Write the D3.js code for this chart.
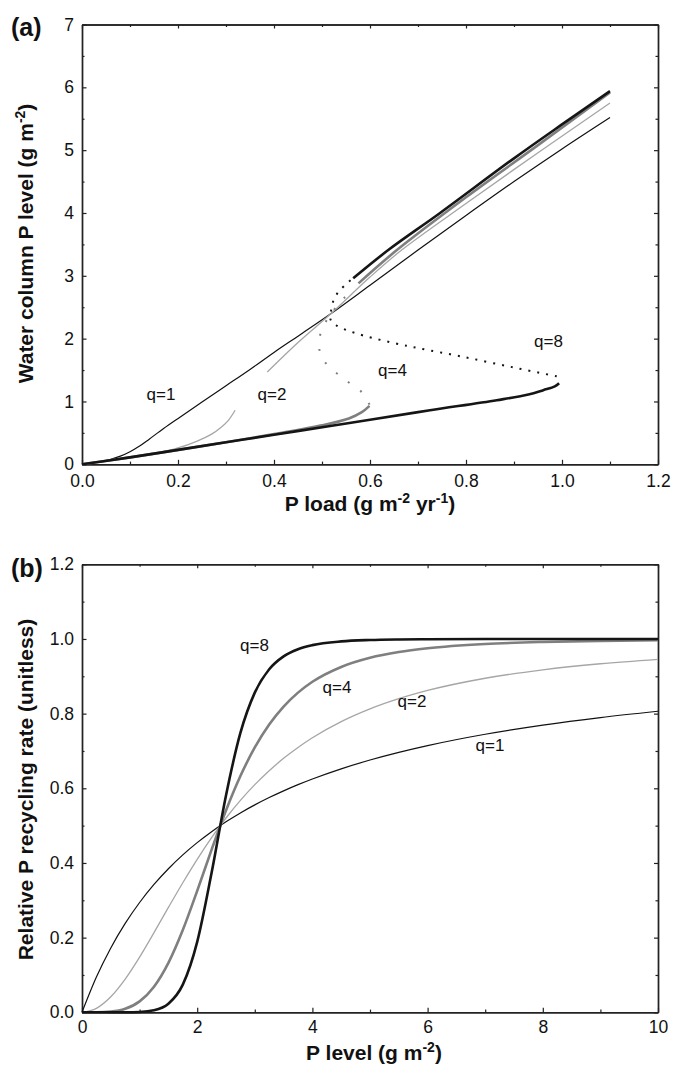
<!DOCTYPE html>
<html><head><meta charset="utf-8">
<script src="https://cdn.jsdelivr.net/npm/d3@7"></script>
<style>
html,body{margin:0;padding:0;background:#fff;}
svg{display:block;font-family:Arial,"Liberation Sans",Helvetica,sans-serif;}
</style></head>
<body><svg id="chart" width="673" height="1068"></svg>
<script>
// ---------- Panel (a) data: P load (x) vs water column P level (y) ----------
const q1Load  = [0,0.02,0.04,0.06,0.08,0.1,0.12,0.14,0.17,0.204,0.25,0.3,0.35,0.4,0.45,0.519,0.6,0.7,0.8,0.9,1.0,1.1];
const q1Level = [0,0.02,0.045,0.08,0.13,0.2,0.29,0.4,0.57,0.75,0.99,1.25,1.51,1.78,2.04,2.4,2.85,3.41,3.96,4.5,5.02,5.52];

const q2LowLoad  = [0,0.05,0.1,0.15,0.2,0.24,0.27,0.29,0.305,0.319];
const q2LowLevel = [0,0.05,0.11,0.17,0.26,0.37,0.48,0.59,0.7,0.86];
const q2UpLoad   = [0.386,0.45,0.519,0.6,0.666,0.8,0.95,1.1];
const q2UpLevel  = [1.47,1.94,2.4,2.98,3.41,4.15,4.96,5.75];

const q4LowLoad  = [0,0.1,0.2,0.3,0.4,0.5,0.556,0.583,0.599];
const q4LowLevel = [0,0.11,0.23,0.35,0.48,0.62,0.73,0.83,0.93];
const q4MidLoad  = [0.599,0.584,0.558,0.534,0.51,0.496,0.496,0.506,0.519,0.545,0.569];
const q4MidLevel = [0.95,1.14,1.29,1.43,1.59,1.77,2.05,2.24,2.4,2.64,2.81];
const q4UpLoad   = [0.576,0.656,0.8,0.95,1.1];
const q4UpLevel  = [2.88,3.41,4.25,5.08,5.92];

const q8LowLoad  = [0,0.1,0.2,0.3,0.4,0.517,0.6,0.725,0.864,0.93,0.961,0.985,0.994];
const q8LowLevel = [0,0.11,0.23,0.35,0.47,0.61,0.71,0.86,1.02,1.11,1.18,1.24,1.29];
const q8MidLoad  = [0.989,0.9,0.794,0.7,0.656,0.586,0.55,0.53,0.518,0.519,0.524,0.534,0.555,0.565];
const q8MidLevel = [1.40,1.54,1.71,1.85,1.92,2.05,2.14,2.21,2.3,2.45,2.61,2.74,2.9,2.96];
const q8UpLoad   = [0.565,0.638,0.746,0.9,1.0,1.1];
const q8UpLevel  = [2.96,3.41,4.0,4.87,5.41,5.94];

const aXTicks = [0,0.2,0.4,0.6,0.8,1.0,1.2];
const aYTicks = [0,1,2,3,4,5,6,7];

// ---------- Panel (b) data: P level (x) vs relative recycling rate (y) ----------
const pLevel = [0,0.25,0.5,0.75,1,1.25,1.5,1.75,2,2.25,2.5,2.75,3,3.25,3.5,3.75,4,4.5,5,5.5,6,7,8,9,10];
const rateQ1 = [0,0.0943,0.1724,0.2381,0.2941,0.3425,0.3846,0.4217,0.4545,0.4839,0.5102,0.5340,0.5556,0.5752,0.5932,0.6098,0.6250,0.6522,0.6757,0.6962,0.7143,0.7447,0.7692,0.7895,0.8065];
const rateQ2 = [0,0.0107,0.0416,0.0890,0.1479,0.2134,0.2809,0.3471,0.4098,0.4678,0.5204,0.5677,0.6098,0.6471,0.6802,0.7094,0.7353,0.7785,0.8127,0.8400,0.8621,0.8948,0.9174,0.9336,0.9455];
const rateQ4 = [0,0.0001,0.0019,0.0094,0.0293,0.0685,0.1324,0.2204,0.3253,0.4358,0.5407,0.6329,0.7094,0.7708,0.8189,0.8563,0.8853,0.9251,0.9496,0.9650,0.9750,0.9864,0.9920,0.9950,0.9967];
const rateQ8 = [0,0,0,0.0001,0.0009,0.0054,0.0228,0.0740,0.1887,0.3737,0.5809,0.7482,0.8563,0.9188,0.9534,0.9726,0.9835,0.9935,0.9972,0.9987,0.9993,0.9998,0.9999,1.0,1.0];

const bXTicks = [0,2,4,6,8,10];
const bYTicks = [0,0.2,0.4,0.6,0.8,1.0,1.2];

// ---------- styles ----------
const styleQ1 = {stroke:"#111", width:1.2};
const styleQ2 = {stroke:"#a6a6a6", width:1.3};
const styleQ4 = {stroke:"#7f7f7f", width:2.6};
const styleQ8 = {stroke:"#151515", width:2.6};

const svg = d3.select("#chart");
const tickFont = 17.5, titleFont = 21, supFont = 14, qFont = 17;

function zip(xs, ys){ return xs.map((x,i)=>[x, ys[i]]); }

function drawFrame(g, x, y, box, xMajor, yMajor, xMinor, yMinor, xFmt, yFmt, xPad){
  const axisCol = "#222";
  g.append("g").attr("transform",`translate(0,${box.bottom})`)
    .call(d3.axisBottom(x).tickValues(xMajor).tickFormat(xFmt).tickSizeInner(-4.5).tickSizeOuter(0).tickPadding(xPad));
  g.append("g").attr("transform",`translate(0,${box.bottom})`)
    .call(d3.axisBottom(x).tickValues(xMinor).tickFormat("").tickSizeInner(-2.7).tickSizeOuter(0));
  g.append("g").attr("transform",`translate(0,${box.top})`)
    .call(d3.axisTop(x).tickValues(xMajor).tickFormat("").tickSizeInner(-4).tickSizeOuter(0));
  g.append("g").attr("transform",`translate(0,${box.top})`)
    .call(d3.axisTop(x).tickValues(xMinor).tickFormat("").tickSizeInner(-2.5).tickSizeOuter(0));
  g.append("g").attr("transform",`translate(${box.left},0)`)
    .call(d3.axisLeft(y).tickValues(yMajor).tickFormat(yFmt).tickSizeInner(-4.5).tickSizeOuter(0).tickPadding(8));
  g.append("g").attr("transform",`translate(${box.left},0)`)
    .call(d3.axisLeft(y).tickValues(yMinor).tickFormat("").tickSizeInner(-2.5).tickSizeOuter(0));
  g.append("g").attr("transform",`translate(${box.right},0)`)
    .call(d3.axisRight(y).tickValues(yMajor).tickFormat("").tickSizeInner(-4).tickSizeOuter(0));
  g.append("g").attr("transform",`translate(${box.right},0)`)
    .call(d3.axisRight(y).tickValues(yMinor).tickFormat("").tickSizeInner(-2.5).tickSizeOuter(0));
  g.selectAll(".domain").attr("stroke",axisCol).attr("stroke-width",1.4);
  g.selectAll(".tick line").attr("stroke",axisCol).attr("stroke-width",1.2);
  g.selectAll(".tick text").attr("font-size",tickFont).attr("fill","#111")
    .attr("font-family","Arial, 'Liberation Sans', sans-serif");
}

function drawLine(g, x, y, pts, st, dash, curve){
  g.append("path").datum(pts)
    .attr("fill","none").attr("stroke",st.stroke).attr("stroke-width",dash?2:st.width)
    .attr("stroke-dasharray",dash||null)
    .attr("stroke-linecap","butt").attr("stroke-linejoin","round")
    .attr("d", d3.line().x(d=>x(d[0])).y(d=>y(d[1])).curve(curve||d3.curveCatmullRom.alpha(0.5)));
}

function label(g, x, yv, txt){
  g.append("text").attr("x",x).attr("y",yv).attr("text-anchor","middle")
    .attr("font-size",qFont).attr("fill","#111").text(txt);
}

// ================= Panel (a) =================
const boxA = {left:82, right:658, top:24.5, bottom:464.3};
const xA = d3.scaleLinear().domain([0,1.2]).range([boxA.left, boxA.right]);
const yA = d3.scaleLinear().domain([0,7]).range([boxA.bottom, boxA.top]);
const gA = svg.append("g");
drawFrame(gA, xA, yA, boxA, aXTicks, aYTicks,
  d3.range(1,12,2).map(d=>d/10), d3.range(0.5,7,1),
  d3.format(".1f"), d3.format("d"), 10);

drawLine(gA,xA,yA,zip(q1Load,q1Level),styleQ1);
drawLine(gA,xA,yA,zip(q2LowLoad,q2LowLevel),styleQ2);
drawLine(gA,xA,yA,zip(q2UpLoad,q2UpLevel),styleQ2);
drawLine(gA,xA,yA,zip(q4LowLoad,q4LowLevel),styleQ4);
drawLine(gA,xA,yA,zip(q4MidLoad,q4MidLevel),styleQ4,"2,13");
drawLine(gA,xA,yA,zip(q4UpLoad,q4UpLevel),styleQ4);
drawLine(gA,xA,yA,zip(q8LowLoad,q8LowLevel),styleQ8);
drawLine(gA,xA,yA,zip(q8MidLoad,q8MidLevel),styleQ8,"2,7");
drawLine(gA,xA,yA,zip(q8UpLoad,q8UpLevel),styleQ8);

label(gA, 161, 399.5, "q=1");
label(gA, 272, 399.5, "q=2");
label(gA, 392.5, 376, "q=4");
label(gA, 548.5, 347, "q=8");

// ================= Panel (b) =================
const boxB = {left:82, right:658, top:564.3, bottom:1012.3};
const xB = d3.scaleLinear().domain([0,10]).range([boxB.left, boxB.right]);
const yB = d3.scaleLinear().domain([0,1.2]).range([boxB.bottom, boxB.top]);
const gB = svg.append("g");
drawFrame(gB, xB, yB, boxB, bXTicks, bYTicks,
  d3.range(1,10,2), d3.range(1,12,2).map(d=>d/10),
  d3.format("d"), d3.format(".1f"), 8);

const mono = d3.curveMonotoneX;
drawLine(gB,xB,yB,zip(pLevel,rateQ1),styleQ1,null,mono);
drawLine(gB,xB,yB,zip(pLevel,rateQ2),styleQ2,null,mono);
drawLine(gB,xB,yB,zip(pLevel,rateQ4),styleQ4,null,mono);
drawLine(gB,xB,yB,zip(pLevel,rateQ8),styleQ8,null,mono);

label(gB, 254.5, 651, "q=8");
label(gB, 337, 693, "q=4");
label(gB, 412, 707, "q=2");
label(gB, 490, 751, "q=1");

// ================= Titles =================
function titleWithSup(parent, parts, attrs){
  const t = parent.append("text").attr("font-weight","bold").attr("font-size",titleFont).attr("fill","#111");
  Object.entries(attrs).forEach(([k,v])=>t.attr(k,v));
  let shifted = false;
  parts.forEach(p=>{
    const ts = t.append("tspan").text(p.t);
    if(p.sup){ ts.attr("font-size",supFont).attr("dy",-8); shifted = true; }
    else if(shifted){ ts.attr("dy",8); shifted = false; }
  });
  return t;
}

titleWithSup(svg, [{t:"P load (g m"},{t:"-2",sup:true},{t:" yr"},{t:"-1",sup:true},{t:")"}],
  {x:370, y:511, "text-anchor":"middle"});
titleWithSup(svg, [{t:"Water column P level (g m"},{t:"-2",sup:true},{t:")"}],
  {"text-anchor":"middle", transform:"translate(33,243.5) rotate(-90)"});
titleWithSup(svg, [{t:"P level (g m"},{t:"-2",sup:true},{t:")"}],
  {x:374, y:1060, "text-anchor":"middle"});
titleWithSup(svg, [{t:"Relative P recycling rate (unitless)"}],
  {"text-anchor":"middle", transform:"translate(33,789.5) rotate(-90)"});

svg.append("text").attr("x",11).attr("y",36).attr("font-weight","bold").attr("font-size",25).attr("fill","#111").text("(a)");
svg.append("text").attr("x",11).attr("y",577).attr("font-weight","bold").attr("font-size",25).attr("fill","#111").text("(b)");
</script></body></html>
